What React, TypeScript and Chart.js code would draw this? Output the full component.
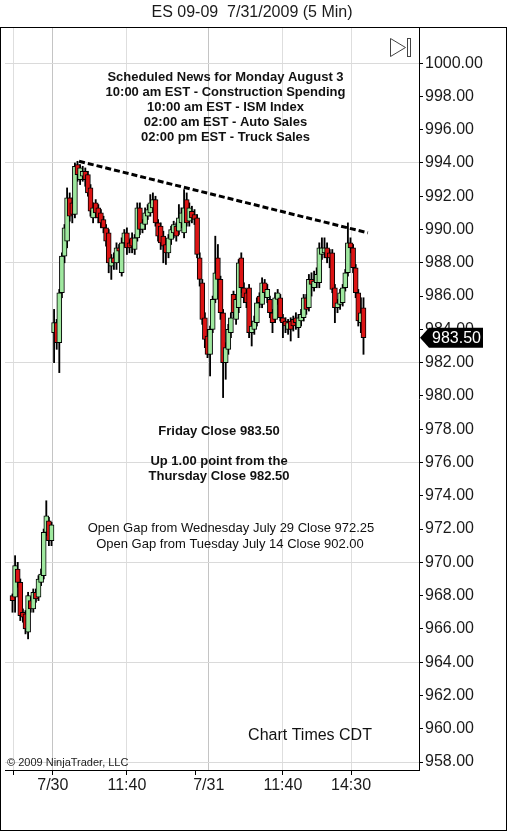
import { useEffect, useRef } from 'react';
import { Chart, registerables } from 'chart.js';

Chart.register(...registerables);

// ---- Data: 5-min bars, 7/29 (end of session), 7/30, 7/31 ----
const opens = [
  968.0, 967.9, 969.6, 968.8, 967.0, 966.9, 965.8, 967.7, 967.2, 968.2, 967.9, 968.8, 969.2, 971.8, 972.5, 971.3,
  983.8, 984.4, 983.2, 986.2, 988.4, 989.3, 991.9, 991.6, 990.9, 993.9, 993.0, 993.2, 993.5, 993.3, 992.5, 990.7,
  991.6, 991.3, 991.0, 990.6, 990.1, 989.8, 987.8, 988.3, 988.0, 988.9, 987.4, 989.2, 989.8, 989.2, 989.5, 988.8,
  989.5, 991.3, 990.0, 990.3, 990.8, 991.0, 991.3, 991.8, 990.4, 990.2, 989.6, 989.1, 988.6, 989.4, 989.8, 990.2,
  989.9, 990.4, 989.8, 991.8, 990.5, 991.1, 990.9, 990.7, 988.3, 986.8, 984.7, 983.6,
  982.5, 984.0, 985.8, 988.3, 987.0, 985.0, 982.0, 982.8, 983.8, 986.1, 984.6, 985.3, 988.3, 986.5, 986.2, 986.5,
  983.8, 984.0, 984.4, 986.0, 985.5, 986.8, 985.9, 985.8, 985.0, 984.6, 985.8, 985.9, 984.7, 984.5, 984.0, 984.5,
  984.6, 984.7, 984.1, 984.5, 984.7, 985.9, 985.3, 987.0, 986.5, 986.8, 986.8, 988.5, 988.6, 988.9, 988.6, 988.6,
  986.5, 985.3, 985.5, 985.6, 986.5, 987.4, 989.2, 988.9, 987.7, 986.2, 984.4, 985.3,
];
const highs = [
  968.1, 970.4, 970.0, 969.0, 967.2, 967.1, 968.2, 967.9, 968.4, 968.4, 969.2, 969.6, 972.0, 973.7, 972.7, 972.4,
  985.2, 984.6, 986.4, 988.6, 990.3, 992.5, 992.2, 991.9, 994.0, 994.1, 993.9, 993.8, 993.7, 993.5, 992.7, 991.6,
  991.8, 991.5, 991.2, 990.8, 990.3, 990.0, 988.5, 988.6, 989.2, 989.1, 989.5, 990.0, 990.1, 989.4, 989.8, 989.7,
  991.6, 991.6, 990.6, 991.3, 991.5, 992.1, 992.2, 992.0, 990.6, 990.4, 989.9, 989.3, 989.7, 990.2, 990.5, 990.4,
  991.5, 991.3, 992.4, 992.2, 991.6, 991.4, 991.2, 990.9, 988.6, 987.0, 985.0, 984.0,
  984.2, 986.0, 989.6, 989.1, 987.2, 985.2, 983.2, 984.3, 985.0, 986.3, 986.0, 988.2, 988.6, 986.8, 986.4, 986.7,
  984.5, 984.8, 985.9, 986.2, 987.1, 987.0, 986.7, 986.0, 985.2, 986.2, 986.4, 986.1, 984.9, 984.7, 984.6, 984.7,
  984.8, 985.0, 984.9, 985.2, 986.1, 986.1, 987.3, 987.4, 987.5, 987.7, 989.2, 989.5, 989.5, 989.2, 988.8, 988.8,
  986.7, 985.8, 986.4, 986.7, 987.6, 990.4, 989.5, 989.1, 987.9, 986.4, 985.9, 985.9,
];
const lows = [
  967.0, 967.0, 968.5, 966.5, 966.4, 965.7, 965.4, 967.0, 967.0, 967.6, 967.7, 968.6, 969.0, 971.6, 971.0, 971.0,
  982.0, 982.8, 981.4, 985.9, 988.0, 988.9, 990.5, 990.4, 990.7, 992.9, 992.7, 992.9, 992.6, 992.0, 990.8, 990.4,
  990.7, 990.4, 990.1, 989.8, 989.0, 987.4, 987.0, 987.6, 987.6, 988.3, 987.2, 989.0, 988.5, 988.6, 988.6, 988.5,
  989.3, 989.7, 989.8, 990.0, 990.6, 990.8, 991.1, 990.2, 989.3, 988.8, 988.0, 987.9, 988.3, 989.1, 989.5, 989.3,
  989.7, 990.1, 989.5, 990.2, 990.2, 990.4, 990.3, 988.3, 986.6, 984.3, 982.9, 982.3,
  981.2, 983.8, 985.6, 986.8, 984.6, 979.9, 981.0, 982.5, 983.5, 984.7, 984.3, 985.0, 986.2, 985.6, 985.3, 983.5,
  983.0, 983.7, 984.2, 985.3, 985.3, 985.9, 985.6, 984.7, 983.8, 984.4, 985.5, 984.5, 983.5, 983.8, 983.7, 983.3,
  983.9, 984.0, 983.5, 984.2, 984.5, 984.9, 985.1, 986.0, 986.3, 986.5, 986.5, 988.2, 988.3, 988.0, 987.7, 986.2,
  984.4, 985.0, 985.2, 985.4, 986.3, 987.2, 988.6, 987.4, 985.9, 984.2, 983.8, 982.5,
];
const closes = [
  967.7, 969.8, 968.8, 966.8, 966.7, 966.0, 968.0, 967.2, 968.2, 967.8, 969.0, 969.3, 971.8, 972.8, 971.3, 972.25,
  984.4, 983.2, 986.2, 988.4, 990.1, 991.9, 990.8, 990.9, 993.8, 993.3, 993.7, 993.5, 993.0, 992.2, 991.1, 991.3,
  991.0, 990.7, 990.4, 990.1, 989.3, 988.0, 988.3, 988.0, 988.9, 988.7, 989.2, 989.8, 988.9, 988.9, 989.0, 989.5,
  991.3, 990.0, 990.4, 991.0, 991.2, 991.6, 991.8, 990.4, 989.6, 989.2, 989.0, 988.6, 989.5, 990.0, 990.3, 989.6,
  990.7, 991.0, 991.3, 990.4, 991.3, 990.7, 990.6, 988.5, 987.0, 984.6, 983.4, 982.5,
  984.0, 985.8, 987.4, 987.0, 985.0, 982.0, 982.9, 984.0, 984.7, 985.0, 985.8, 988.0, 986.5, 985.9, 985.6, 983.8,
  984.2, 984.5, 985.6, 985.6, 986.8, 986.2, 986.4, 985.0, 984.4, 985.9, 986.2, 984.7, 984.4, 984.2, 984.4, 984.0,
  984.2, 984.4, 984.7, 984.9, 985.9, 985.2, 987.0, 986.7, 986.9, 987.3, 988.9, 988.9, 988.9, 988.3, 988.3, 986.4,
  985.3, 985.6, 986.2, 986.5, 987.4, 989.2, 988.9, 987.7, 986.2, 984.5, 985.0, 983.5,
];

// x-axis ticks (bar-index positions) and their labels
const xTickIdx = [0.2, 15.5, 44, 70.2, 75.5, 104, 130.2];
const xTickLabels = ['', '7/30', '11:40', '', '7/31', '11:40', '14:30'];

// y-axis range and label ceiling
const yMin = 957.52;
const yMax = 1002.11;
const yLabelMax = 1000;

// trend line (bar index, price)
const trendX = [25.6, 136.7];
const trendY = [994.1, 989.8];

const lastPrice = 983.5;
const titleText = 'ES 09-09  7/31/2009 (5 Min)';
const newsLines = [
  'Scheduled News for Monday August 3',
  '10:00 am EST - Construction Spending',
  '10:00 am EST - ISM Index',
  '02:00 am EST - Auto Sales',
  '02:00 pm EST - Truck Sales',
];
const closeLines = ['Friday Close 983.50', 'Up 1.00 point from the', 'Thursday Close 982.50'];
const gapLines = [
  'Open Gap from Wednesday July 29 Close 972.25',
  'Open Gap from Tuesday July 14 Close 902.00',
];
const timesNote = 'Chart Times CDT';
const copyrightNote = '\u00A9 2009 NinjaTrader, LLC';

const FONT = '"Liberation Sans", Arial, sans-serif';
const UP = '#9fe89f';
const DOWN = '#dc1414';

export default function App() {
  const ref = useRef<HTMLCanvasElement | null>(null);

  useEffect(() => {
    if (!ref.current) return;
    Chart.defaults.font.family = FONT;

    const overlay = {
      id: 'overlay',
      afterDraw(chart: any) {
        const ctx = chart.ctx as CanvasRenderingContext2D;
        ctx.save();
        // frame
        ctx.strokeStyle = '#000';
        ctx.lineWidth = 1;
        ctx.strokeRect(0.5, 27.5, 506, 803);
        // title
        ctx.fillStyle = '#1a1a1a';
        ctx.textBaseline = 'middle';
        ctx.textAlign = 'center';
        ctx.font = `16px ${FONT}`;
        ctx.fillText(titleText, 252, 13);
        // icon
        ctx.strokeStyle = '#444';
        ctx.beginPath();
        ctx.moveTo(390.5, 38.5);
        ctx.lineTo(390.5, 56.5);
        ctx.lineTo(405.5, 47.5);
        ctx.closePath();
        ctx.stroke();
        ctx.strokeRect(407.5, 38.5, 3, 18);
        // news
        ctx.fillStyle = '#111';
        ctx.font = `bold 13px ${FONT}`;
        newsLines.forEach((t, i) => ctx.fillText(t, 225.5, 77.5 + i * 15));
        ctx.fillText(closeLines[0], 219, 431);
        ctx.fillText(closeLines[1], 219, 461);
        ctx.fillText(closeLines[2], 219, 476);
        ctx.font = `13px ${FONT}`;
        ctx.fillText(gapLines[0], 231, 528);
        ctx.fillText(gapLines[1], 230, 544);
        ctx.font = `16px ${FONT}`;
        ctx.fillText(timesNote, 310, 736);
        ctx.textAlign = 'left';
        ctx.font = `11px ${FONT}`;
        ctx.fillStyle = '#222';
        ctx.fillText(copyrightNote, 7, 763);
        // last price marker
        const y = chart.scales.y.getPixelForValue(lastPrice);
        const x0 = chart.chartArea.right + 1;
        ctx.fillStyle = '#000';
        ctx.beginPath();
        ctx.moveTo(x0, y);
        ctx.lineTo(x0 + 9, y - 10);
        ctx.lineTo(483, y - 10);
        ctx.lineTo(483, y + 10);
        ctx.lineTo(x0 + 9, y + 10);
        ctx.closePath();
        ctx.fill();
        ctx.fillStyle = '#fff';
        ctx.font = `16px ${FONT}`;
        ctx.textAlign = 'left';
        ctx.fillText(lastPrice.toFixed(2), 432, y + 0.5);
        ctx.restore();
      },
    };

    const chart = new Chart(ref.current, {
      type: 'bar',
      data: {
        datasets: [
          {
            type: 'line',
            label: 'trend',
            data: trendX.map((x, i) => ({ x, y: trendY[i] })),
            borderColor: '#000',
            borderWidth: 3,
            borderDash: [6, 3],
            pointRadius: 0,
            order: -1,
          } as any,
          {
            type: 'bar',
            label: 'body',
            data: opens.map((o, i) => ({ x: i, y: [o, closes[i]] })),
            backgroundColor: opens.map((o, i) => (closes[i] >= o ? UP : DOWN)),
            borderColor: '#000',
            borderWidth: 1,
            borderSkipped: false,
            barThickness: 5,
            minBarLength: 1,
            grouped: false,
            order: 0,
          } as any,
          {
            type: 'bar',
            label: 'wick',
            data: lows.map((l, i) => ({ x: i, y: [l, highs[i]] })),
            backgroundColor: '#000',
            borderWidth: 0,
            barThickness: 1.2,
            grouped: false,
            order: 1,
          } as any,
        ],
      },
      options: {
        animation: false,
        responsive: false,
        maintainAspectRatio: false,
        layout: { padding: { left: 5, top: 28, right: 0, bottom: 0 } },
        plugins: { legend: { display: false }, tooltip: { enabled: false }, title: { display: false } },
        scales: {
          x: {
            type: 'linear',
            min: -2.885,
            max: 156.35,
            offset: false,
            afterFit: (s: any) => {
              s.height = 61;
            },
            afterBuildTicks: (s: any) => {
              s.ticks = xTickIdx.map((v) => ({ value: v }));
            },
            border: { color: '#000', width: 1 },
            grid: {
              offset: false,
              tickLength: 5,
              color: (c: any) => (c.index === 3 ? 'rgba(0,0,0,0)' : c.index === 1 || c.index === 4 ? '#c4c4c4' : '#dedede'),
              tickColor: (c: any) => (c.index === 4 ? 'rgba(0,0,0,0)' : '#000'),
            },
            ticks: {
              autoSkip: false,
              maxRotation: 0,
              padding: 1,
              color: '#1a1a1a',
              font: { size: 16 },
              callback: (_v: any, i: number) => xTickLabels[i],
            },
          },
          y: {
            type: 'linear',
            position: 'right',
            min: yMin,
            max: yMax,
            afterFit: (s: any) => {
              s.width = 88;
            },
            afterBuildTicks: (s: any) => {
              s.ticks = s.ticks.filter((t: any) => t.value <= yLabelMax);
            },
            border: { color: '#000', width: 1 },
            grid: {
              tickLength: 4,
              color: (c: any) => ((Math.round(c.tick.value) - 958) % 6 === 0 ? '#dadada' : 'rgba(0,0,0,0)'),
              tickColor: '#000',
            },
            ticks: {
              stepSize: 2,
              includeBounds: false,
              autoSkip: false,
              maxTicksLimit: 100,
              padding: 2,
              color: '#1a1a1a',
              font: { size: 16 },
              callback: (v: any) => Number(v).toFixed(2),
            },
          },
        },
      } as any,
      plugins: [overlay],
    });

    return () => chart.destroy();
  }, []);

  return (
    <div style={{ position: 'absolute', left: 0, top: 0, width: 507, height: 831, background: '#fff' }}>
      <canvas ref={ref} width={507} height={831} style={{ width: 507, height: 831, display: 'block' }} />
    </div>
  );
}
